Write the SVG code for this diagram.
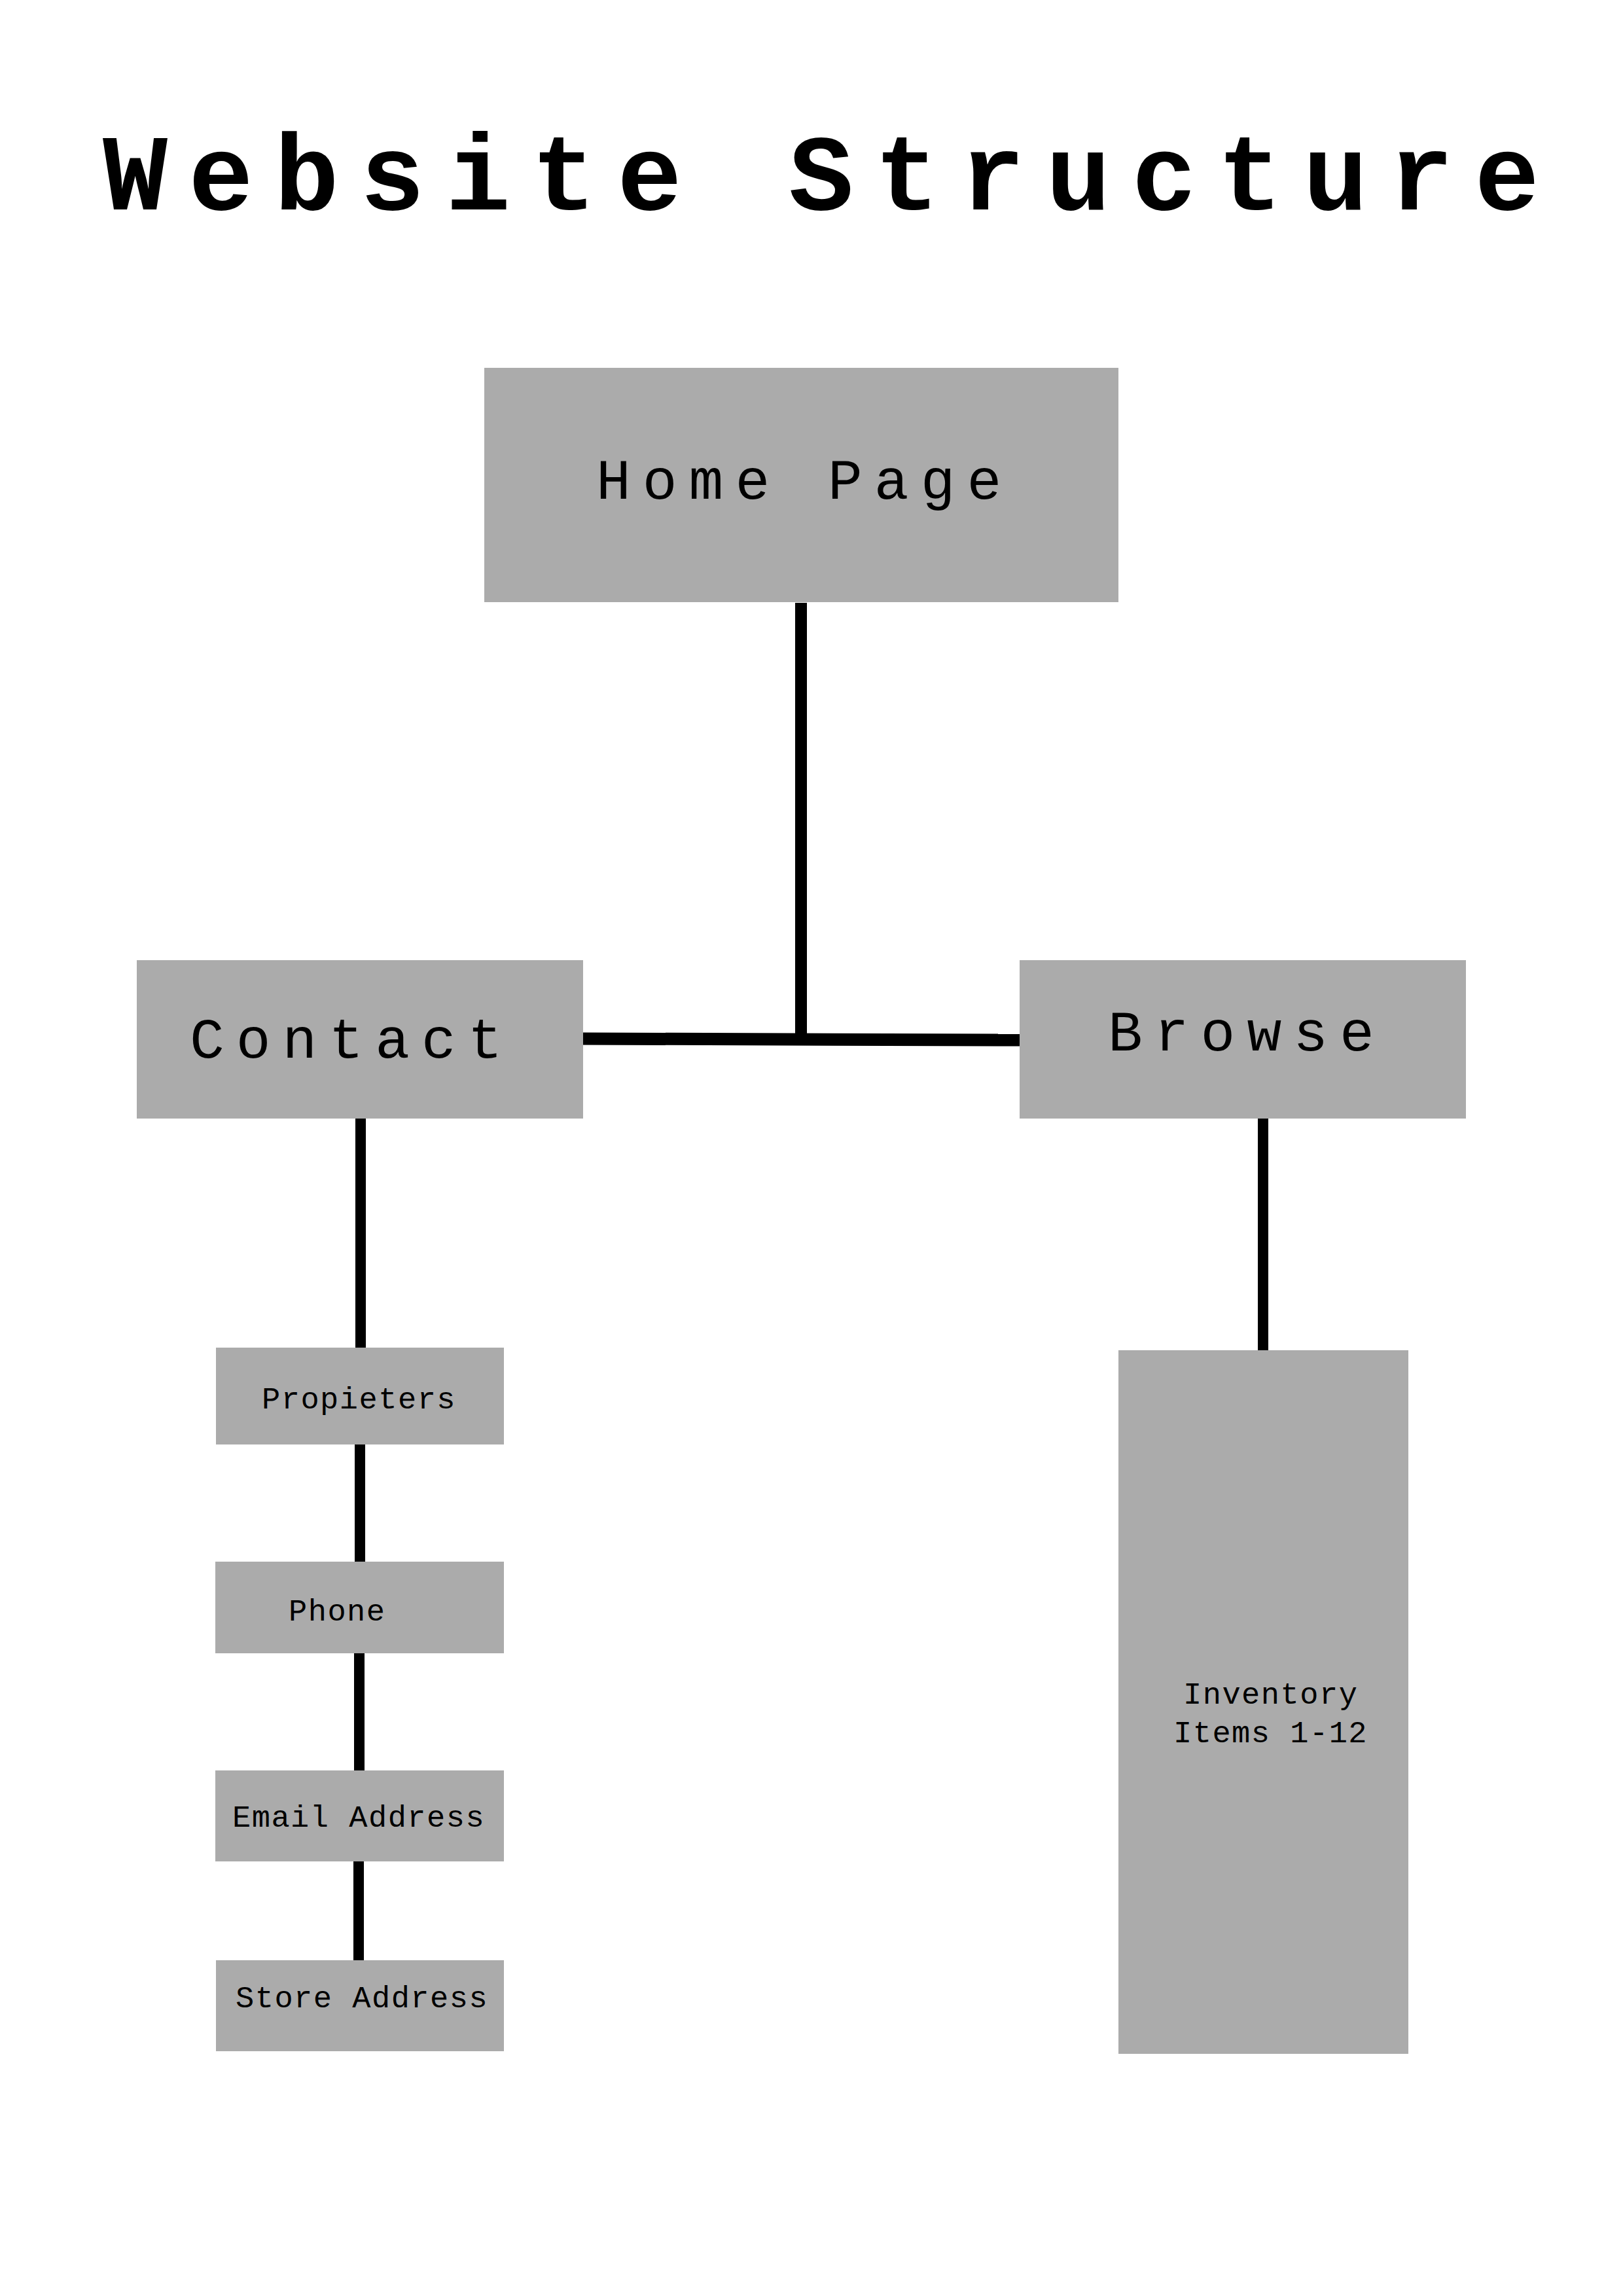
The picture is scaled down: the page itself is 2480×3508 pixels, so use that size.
<svg xmlns="http://www.w3.org/2000/svg" width="2480" height="3508" viewBox="0 0 2480 3508">
  <style>
    .box { fill: #ababab; }
    .lbl { font-family: "Courier New", "Liberation Mono", monospace; fill: #000; }
    .big { font-size: 88px; letter-spacing: 18px; }
    .small { font-size: 47px; letter-spacing: 1.5px; }
    .title { font-size: 165px; font-weight: bold; letter-spacing: 32px; }
    .link { stroke: #000; fill: none; stroke-linecap: butt; }
  </style>
  <rect width="2480" height="3508" fill="#ffffff"/>

  <text class="lbl title" x="157" y="320">Website Structure</text>

  <!-- connectors -->
  <g id="connectors">
    <line class="link" x1="1224" y1="921" x2="1224" y2="1588" stroke-width="18"/>
    <line class="link" x1="891" y1="1587" x2="1558" y2="1589" stroke-width="19"/>
    <line class="link" x1="551" y1="1709" x2="551" y2="2059" stroke-width="16"/>
    <line class="link" x1="550" y1="2207" x2="550" y2="2386" stroke-width="16"/>
    <line class="link" x1="549" y1="2526" x2="549" y2="2705" stroke-width="16"/>
    <line class="link" x1="548" y1="2844" x2="548" y2="2995" stroke-width="16"/>
    <line class="link" x1="1930" y1="1709" x2="1930" y2="2063" stroke-width="16"/>
  </g>

  <g id="home">
    <rect class="box" x="740" y="562" width="969" height="358"/>
    <text class="lbl big" x="911" y="762">Home Page</text>
  </g>

  <g id="contact">
    <rect class="box" x="209" y="1467" width="682" height="242"/>
    <text class="lbl big" x="290" y="1616">Contact</text>
  </g>

  <g id="browse">
    <rect class="box" x="1558" y="1467" width="682" height="242"/>
    <text class="lbl big" x="1693" y="1605">Browse</text>
  </g>

  <g id="propieters">
    <rect class="box" x="330" y="2059" width="440" height="148"/>
    <text class="lbl small" x="400" y="2152">Propieters</text>
  </g>

  <g id="phone">
    <rect class="box" x="329" y="2386" width="441" height="140"/>
    <text class="lbl small" x="441" y="2476">Phone</text>
  </g>

  <g id="email">
    <rect class="box" x="329" y="2705" width="441" height="139"/>
    <text class="lbl small" x="355" y="2791">Email Address</text>
  </g>

  <g id="store">
    <rect class="box" x="330" y="2995" width="440" height="139"/>
    <text class="lbl small" x="360" y="3067">Store Address</text>
  </g>

  <g id="inventory">
    <rect class="box" x="1709" y="2063" width="443" height="1075"/>
    <text class="lbl small" x="1808" y="2603">Inventory</text>
    <text class="lbl small" x="1793" y="2662">Items 1-12</text>
  </g>
</svg>
